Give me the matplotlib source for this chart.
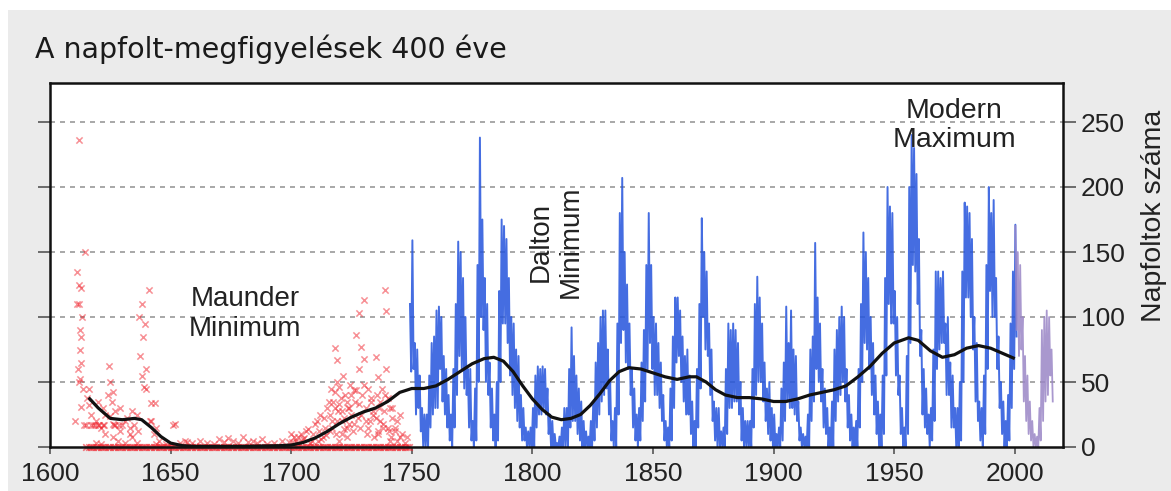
import matplotlib
matplotlib.use("Agg")
import matplotlib.pyplot as plt
import numpy as np
from matplotlib.patches import Rectangle

# ---------------- data ----------------
# Red markers: early telescopic observations (year, sunspot count)
red_years = [1610.5, 1611, 1611.5, 1612, 1612, 1612.3, 1612.5, 1612.6, 1612.8, 1613, 1613, 1613.2,
             1613.5, 1614, 1614.5, 1615, 1615.5, 1616, 1616, 1617, 1618, 1619, 1620, 1621,
             1622, 1623, 1624, 1624.5, 1625, 1625, 1625.5, 1626, 1626, 1627, 1628, 1629, 1630,
             1631, 1632, 1633, 1634, 1635, 1636, 1636.5, 1637, 1637.5, 1638, 1638, 1638.5, 1639,
             1639.5, 1640, 1641, 1641.5, 1642, 1643, 1643.5, 1644, 1645, 1646, 1648, 1650,
             1651, 1652, 1654, 1656, 1657, 1659, 1660, 1662, 1665, 1668, 1670, 1672, 1674,
             1676, 1678, 1680, 1682, 1684, 1686, 1688, 1690, 1693, 1696, 1699, 1700, 1702,
             1703, 1705, 1706, 1708, 1709, 1710, 1711, 1712, 1713, 1714, 1715, 1716, 1716.5,
             1717, 1717.5, 1718, 1718.5, 1719, 1719.5, 1720, 1720, 1720.5, 1721, 1721.5, 1722,
             1722.5, 1723, 1723.5, 1724, 1724.5, 1725, 1725.5, 1726, 1726.5, 1727, 1727.5, 1728,
             1728, 1728.5, 1729, 1729.5, 1730, 1730, 1731, 1731.5, 1732, 1732.5, 1733, 1734,
             1734.5, 1735, 1735.5, 1736, 1736, 1736.5, 1737, 1737.5, 1738, 1738.5, 1739, 1739.5,
             1739.5, 1740, 1740.5, 1741, 1741.5, 1742, 1743, 1744, 1745, 1746, 1747, 1748,
             1700.5, 1701, 1702.5, 1704, 1705.5, 1707, 1708.5, 1710.5, 1711.5, 1712.5, 1713.5,
             1714.5, 1715.5, 1716, 1717, 1718, 1718, 1719, 1719, 1720, 1721, 1721, 1722, 1723,
             1723, 1724, 1725, 1726, 1727, 1728, 1729, 1730, 1731, 1732, 1733, 1734, 1735,
             1736, 1737, 1738, 1739, 1740, 1741, 1742, 1743, 1744, 1745,
             1617, 1619, 1620, 1621, 1622, 1623, 1626, 1627, 1629, 1631, 1633, 1634, 1636,
             1640, 1642, 1644, 1612, 1613, 1611, 1612, 1618.5, 1620.5, 1622.5, 1626.5, 1628.5]
red_values = [20, 135, 60, 236, 110, 90, 75, 52, 31, 122, 65, 100,
              45, 17, 150, 17, 38, 45, 32, 17, 17, 3, 17, 2,
              17, 25, 40, 62, 50, 24, 35, 18, 8, 17, 5, 30, 17,
              3, 22, 10, 28, 17, 3, 12, 100, 70, 110, 55, 85, 46,
              95, 60, 121, 20, 34, 10, 34, 2, 5, 0, 2, 0,
              17, 18, 3, 5, 4, 3, 1, 5, 3, 2, 6, 4, 7,
              5, 3, 8, 4, 5, 3, 6, 2, 3, 5, 4, 10, 5,
              8, 6, 12, 3, 10, 18, 5, 25, 8, 15, 30, 12, 45,
              20, 35, 76, 10, 67, 28, 46, 5, 38, 20, 55, 14,
              40, 8, 30, 18, 48, 25, 12, 44, 35, 86, 22, 103,
              60, 15, 77, 40, 113, 68, 30, 10, 45, 20, 35, 25,
              8, 69, 40, 54, 12, 30, 20, 45, 15, 28, 121, 60,
              105, 38, 12, 30, 8, 22, 15, 5, 25, 10, 3, 8,
              4, 8, 3, 10, 7, 14, 5, 20, 12, 6, 22,
              9, 35, 25, 15, 42, 30, 20, 50, 33, 10, 28, 22, 35,
              15, 30, 40, 18, 44, 33, 25, 48, 20, 15, 38, 28, 22,
              10, 35, 18, 40, 15, 5, 30, 12, 20, 8,
              25, 20, 35, 15, 30, 10, 42, 28, 12, 20, 15, 8, 25,
              45, 20, 15, 50, 85, 110, 125, 17, 17, 17, 17, 17]
# Red markers sitting on the zero line (years with no spots reported)
red_zero_years = list(range(1615, 1750))

# Blue: monthly record 1749-2000, monthly high and low reached within each year
blue_years = list(range(1749, 2001))
blue_hi = [110, 159, 80, 75, 55, 30, 25, 25, 55, 80, 85, 105, 108, 100, 70, 60, 40, 25, 60, 110,
           158, 150, 130, 100, 60, 60, 20, 45, 140, 238, 175, 130, 110, 65, 45, 25, 50, 120, 175, 170,
           160, 130, 100, 95, 75, 70, 40, 30, 15, 12, 15, 30, 55, 62, 60, 62, 60, 45, 25, 20,
           10, 3, 8, 15, 30, 30, 60, 92, 70, 55, 45, 35, 20, 12, 8, 20, 35, 65, 80, 100,
           105, 105, 75, 50, 20, 30, 95, 180, 207, 150, 125, 95, 60, 45, 25, 30, 65, 90, 140, 180,
           140, 100, 95, 80, 65, 40, 20, 15, 45, 85, 115, 115, 105, 85, 70, 75, 55, 35, 20, 60,
           110, 176, 150, 135, 95, 75, 35, 30, 30, 12, 15, 60, 95, 90, 95, 90, 80, 50, 30, 20,
           20, 20, 60, 110, 131, 115, 95, 65, 45, 50, 30, 25, 10, 15, 45, 65, 108, 80, 105, 75,
           70, 35, 15, 10, 8, 25, 75, 85, 157, 115, 95, 60, 45, 30, 15, 35, 75, 90, 100, 108,
           100, 60, 40, 25, 15, 20, 60, 110, 165, 150, 130, 100, 80, 55, 35, 25, 55, 130, 200, 185,
           180, 120, 100, 55, 30, 15, 70, 200, 240, 230, 210, 160, 90, 60, 45, 25, 30, 75, 135, 135,
           130, 135, 95, 100, 65, 55, 30, 30, 50, 135, 188, 185, 180, 160, 100, 80, 35, 30, 55, 140,
           200, 180, 190, 130, 85, 50, 35, 20, 40, 95, 135, 171]
blue_lo = [58, 60, 25, 30, 12, 0, 0, 0, 15, 25, 30, 30, 60, 35, 25, 15, 5, 0, 15, 40,
           70, 60, 45, 40, 15, 5, 0, 5, 50, 100, 90, 50, 40, 15, 5, 0, 5, 50, 95, 95,
           80, 55, 40, 30, 20, 15, 5, 5, 0, 0, 0, 0, 15, 25, 25, 30, 25, 10, 0, 0,
           0, 0, 0, 0, 0, 0, 15, 20, 20, 10, 5, 0, 0, 0, 0, 0, 5, 15, 25, 35,
           40, 45, 25, 5, 0, 0, 25, 80, 90, 65, 60, 40, 15, 5, 0, 5, 20, 35, 60, 80,
           60, 40, 40, 30, 20, 5, 0, 0, 5, 30, 65, 70, 50, 35, 25, 25, 10, 0, 0, 15,
           45, 100, 75, 70, 40, 20, 5, 0, 0, 0, 0, 10, 30, 30, 35, 35, 25, 5, 0, 0,
           0, 0, 15, 40, 50, 50, 35, 20, 10, 5, 0, 0, 0, 0, 5, 20, 35, 30, 30, 25,
           20, 5, 0, 0, 0, 0, 20, 35, 60, 50, 35, 15, 10, 0, 0, 0, 20, 35, 40, 50,
           35, 15, 5, 0, 0, 0, 15, 50, 80, 75, 60, 40, 25, 10, 0, 0, 10, 55, 110, 95,
           95, 55, 40, 10, 0, 0, 10, 80, 140, 135, 110, 70, 25, 15, 10, 0, 5, 20, 60, 75,
           80, 80, 40, 40, 15, 15, 0, 0, 5, 50, 115, 115, 100, 75, 35, 20, 5, 0, 10, 60,
           120, 100, 100, 60, 30, 10, 0, 0, 5, 30, 60, 85]

# Purple: recent record 2000-2015
purple_years = list(range(2000, 2016))
purple_hi = [170, 150, 140, 100, 70, 55, 35, 20, 10, 8, 30, 90, 100, 105, 100, 75]
purple_lo = [90, 70, 75, 35, 20, 10, 5, 0, 0, 0, 5, 20, 35, 40, 55, 35]

# Black: long-term smoothed curve
smooth_years = [1616, 1620, 1625, 1630, 1635, 1638, 1642, 1646, 1650, 1655, 1660, 1680, 1695,
                1700, 1705, 1710, 1715, 1720, 1725, 1730, 1735, 1740, 1745, 1750, 1755, 1760,
                1765, 1770, 1775, 1780, 1784, 1788, 1792, 1796, 1800, 1804, 1808, 1812, 1816,
                1820, 1824, 1828, 1832, 1836, 1840, 1845, 1850, 1855, 1860, 1865, 1868, 1872,
                1876, 1880, 1885, 1890, 1895, 1900, 1905, 1910, 1915, 1920, 1925, 1930, 1935,
                1940, 1945, 1950, 1956, 1960, 1965, 1970, 1975, 1980, 1985, 1990, 1995, 2000]
smooth_values = [38, 30, 22, 21, 22, 21, 15, 8, 3, 1, 0.5, 0.5, 1,
                 1.5, 3.5, 7, 12, 18, 23, 27, 30, 35, 42, 45, 45, 47,
                 52, 58, 64, 68, 69, 66, 58, 47, 37, 29, 23, 21, 22,
                 25, 32, 41, 51, 58, 61, 60, 57, 54, 52, 54, 54, 50,
                 44, 40, 38, 38, 37, 35, 35, 37, 40, 42, 44, 47, 54,
                 62, 72, 80, 84, 82, 74, 69, 71, 76, 78, 76, 72, 68]

x_ticks = [1600, 1650, 1700, 1750, 1800, 1850, 1900, 1950, 2000]
y_ticks = [0, 50, 100, 150, 200, 250]

title = "A napfolt-megfigyelések 400 éve"
ylabel = "Napfoltok száma"

# ---------------- figure ----------------
W, H = 1171, 491
fig = plt.figure(figsize=(W / 100, H / 100), dpi=100, facecolor="white")
fig.patches.append(Rectangle((8 / W, 0), 1, 1 - 10 / H, transform=fig.transFigure,
                             facecolor="#ebebeb", edgecolor="none", zorder=-10))

ax = fig.add_axes([50 / W, 1 - 447 / H, (1063 - 50) / W, (447 - 83) / H])
ax.set_facecolor("white")

def zigzag(years, hi, lo):
    xs, ys = [], []
    for yr, h, l in zip(years, hi, lo):
        xs += [yr + 0.25, yr + 0.75]
        ys += [h, l]
    return xs, ys

bx, by = zigzag(blue_years, blue_hi, blue_lo)
px, py = zigzag(purple_years, purple_hi, purple_lo)

red_c = "#f0202a"
ax.scatter(red_zero_years, [0] * len(red_zero_years), marker="x", s=22, color=red_c,
           alpha=0.6, linewidths=1.2, zorder=3, clip_on=False)
ax.scatter(red_years, red_values, marker="x", s=20, color=red_c, alpha=0.5,
           linewidths=1.1, zorder=3)
ax.plot(bx, by, color="#2454dc", lw=1.4, alpha=0.85, zorder=3)
ax.plot(px, py, color="#9a86c6", lw=1.3, alpha=0.85, zorder=3)
ax.plot(smooth_years, smooth_values, color="#111111", lw=2.3, zorder=4,
        solid_capstyle="butt")

ax.set_xlim(1600, 2020)
ax.set_ylim(0, 280)
ax.set_xticks(x_ticks)
ax.set_yticks(y_ticks)
for y in y_ticks[1:]:
    ax.axhline(y, color="#9a9a9a", lw=1.2, ls=(0, (3, 3)), zorder=1)

ax.tick_params(axis="y", which="both", left=True, right=True, labelleft=False,
               labelright=True, direction="out", length=9, width=1.2, pad=4,
               labelsize=19, labelcolor="#222222", color="#555555")
ax.tick_params(axis="x", direction="out", length=5, width=1.2, pad=6,
               labelsize=19, labelcolor="#222222", color="#555555")
for lab in ax.get_xticklabels() + ax.get_yticklabels():
    lab.set_fontfamily("Liberation Sans")

for s in ax.spines.values():
    s.set_linewidth(1.8)
    s.set_color("#111111")
    s.set_zorder(6)

fig.text(1154 / W, 1 - 216 / H, ylabel, fontsize=20.5, color="#222222",
         family="Liberation Sans", rotation=90, ha="center", va="center")

ax.text(1681, 102, "Maunder\nMinimum", ha="center", va="center", fontsize=20,
        color="#222222", family="Liberation Sans", linespacing=1.2, zorder=5)
ax.text(1809.6, 157.5, "Dalton\nMinimum", ha="center", va="center", fontsize=20,
        color="#222222", family="Liberation Sans", rotation=90, linespacing=1.2, zorder=5)
ax.text(1975, 247.5, "Modern\nMaximum", ha="center", va="center", fontsize=20.5,
        color="#222222", family="Liberation Sans", linespacing=1.15, zorder=5)

fig.text(35 / W, 1 - 58 / H, title, fontsize=20.5, color="#1a1a1a",
         family="DejaVu Sans", ha="left", va="baseline")

fig.savefig("out.png", dpi=100, facecolor=fig.get_facecolor())
